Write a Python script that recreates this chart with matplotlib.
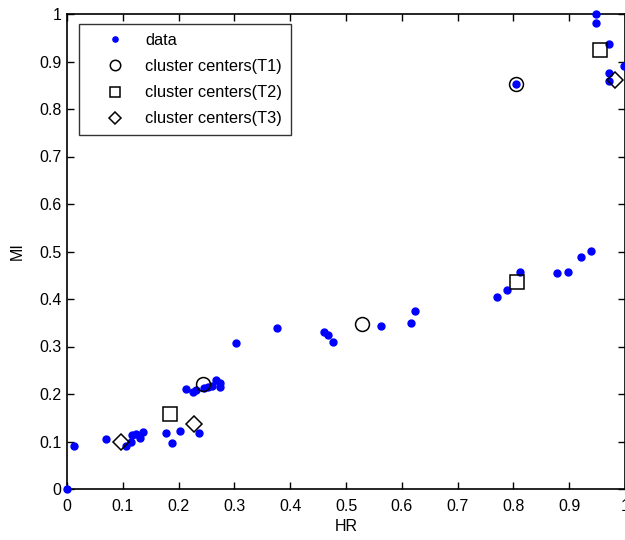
import matplotlib
matplotlib.use("Agg")
import matplotlib.pyplot as plt

plt.rcParams['font.family'] = ['Liberation Sans', 'DejaVu Sans']

# data points (HR, MI)
hr = [0.0, 0.0125, 0.069, 0.105, 0.115, 0.116, 0.124, 0.131, 0.136, 0.177, 0.188, 0.202, 0.237,
      0.213, 0.225, 0.232, 0.2455, 0.253, 0.26, 0.267, 0.274, 0.274,
      0.303, 0.377, 0.46, 0.467, 0.476, 0.563, 0.616, 0.624,
      0.771, 0.789, 0.812, 0.879, 0.897, 0.921, 0.939,
      0.805, 0.948, 0.948, 0.971, 0.998, 0.971, 0.971]
mi = [0.0, 0.091, 0.105, 0.091, 0.1, 0.114, 0.116, 0.108, 0.119, 0.117, 0.097, 0.123, 0.117,
      0.211, 0.204, 0.208, 0.212, 0.214, 0.217, 0.229, 0.224, 0.214,
      0.307, 0.34, 0.331, 0.325, 0.31, 0.343, 0.349, 0.375,
      0.404, 0.419, 0.457, 0.454, 0.457, 0.489, 0.501,
      0.853, 0.999, 0.981, 0.937, 0.89, 0.876, 0.858]

# cluster centers
t1_hr = [0.244, 0.528, 0.805]
t1_mi = [0.221, 0.347, 0.853]
t2_hr = [0.185, 0.806, 0.956]
t2_mi = [0.157, 0.435, 0.924]
t3_hr = [0.097, 0.228, 0.982]
t3_mi = [0.099, 0.136, 0.862]

ticks = [0, 0.1, 0.2, 0.3, 0.4, 0.5, 0.6, 0.7, 0.8, 0.9, 1]
tick_labels = ['0', '0.1', '0.2', '0.3', '0.4', '0.5', '0.6', '0.7', '0.8', '0.9', '1']

fig = plt.figure(figsize=(6.25, 5.4), dpi=100)
ax = fig.add_axes([67 / 625, 1 - 489 / 540, 558 / 625, 475 / 540])

ax.plot(hr, mi, '.', color='#0000ff', markersize=10, label='data', clip_on=False, zorder=3)
ax.plot(t1_hr, t1_mi, 'o', mfc='none', mec='k', markersize=10, mew=1.1,
        label='cluster centers(T1)', clip_on=False, zorder=4)
ax.plot(t2_hr, t2_mi, 's', mfc='none', mec='k', markersize=10, mew=1.1,
        label='cluster centers(T2)', clip_on=False, zorder=4)
ax.plot(t3_hr, t3_mi, 'D', mfc='none', mec='k', markersize=8, mew=1.1,
        label='cluster centers(T3)', clip_on=False, zorder=4)

ax.set_xlim(0, 1)
ax.set_ylim(0, 1)
ax.set_xticks(ticks)
ax.set_yticks(ticks)
ax.set_xticklabels(tick_labels)
ax.set_yticklabels(tick_labels)
ax.tick_params(direction='in', top=True, right=True, length=5, width=1, labelsize=11.5)
ax.tick_params(axis='x', pad=7)
ax.tick_params(axis='y', pad=4)
for s in ax.spines.values():
    s.set_linewidth(1.2)

ax.set_xlabel('HR', fontsize=11.5, labelpad=4)
ax.set_ylabel('MI', fontsize=11.5, labelpad=10)

leg = ax.legend(loc='upper left', bbox_to_anchor=(0.0215, 0.979), borderaxespad=0,
                fontsize=11.8, frameon=True, fancybox=False, edgecolor='k',
                handlelength=3.35, borderpad=0.55, labelspacing=0.68,
                handletextpad=0.15, numpoints=1, markerscale=0.75)
leg.get_frame().set_linewidth(1.0)

fig.savefig('out.png', dpi=100)
